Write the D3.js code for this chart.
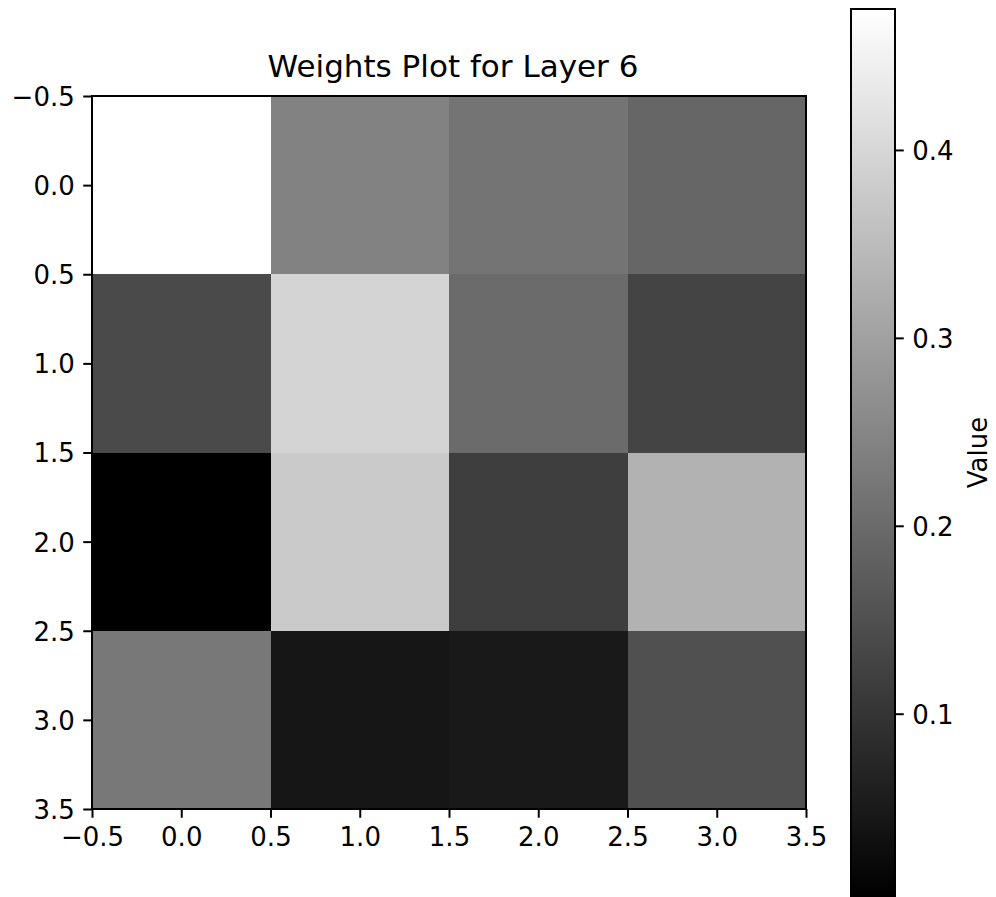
<!DOCTYPE html>
<html>
<head>
<meta charset="utf-8">
<script src="https://cdn.jsdelivr.net/npm/d3@7"></script>
<style>
  html, body { margin: 0; padding: 0; background: #fff; }
  svg { display: block; font-family: "DejaVu Sans", sans-serif; }
</style>
</head>
<body>
<svg id="chart" width="996" height="897"></svg>
<script>
// ---- data ----
const rows = [0, 1, 2, 3];
const cols = [0, 1, 2, 3];
const row0 = [0.475, 0.244, 0.218, 0.192];
const row1 = [0.140, 0.395, 0.201, 0.129];
const row2 = [0.003, 0.377, 0.118, 0.332];
const row3 = [0.225, 0.044, 0.049, 0.151];
const values = [row0, row1, row2, row3];
const axisTicks = [-0.5, 0.0, 0.5, 1.0, 1.5, 2.0, 2.5, 3.0, 3.5];
const cbarTicks = [0.1, 0.2, 0.3, 0.4];
const title = "Weights Plot for Layer 6";
const cbarLabel = "Value";

(function () {
// ---- layout ----
const svg = d3.select("#chart");
const pL = 92, pR = 806, pT = 96, pB = 809;
const cbL = 851, cbR = 895, cbT = 9, cbB = 896;
const tickLen = 8.75, tickPad = 8.5, fs = 26;

const fmt = v => (v < 0 ? "\u2212" : "") + Math.abs(v).toFixed(1);

const x = d3.scaleLinear().domain([-0.5, 3.5]).range([pL, pR]);
const y = d3.scaleLinear().domain([-0.5, 3.5]).range([pT, pB]);

const flat = [];
rows.forEach(r => cols.forEach(c => flat.push({r, c, v: values[r][c]})));
const ext = d3.extent(flat, d => d.v);
const color = d3.scaleLinear().domain(ext).range(["#000000", "#ffffff"]).interpolate(d3.interpolateRgb);

// cells
svg.append("g").selectAll("rect").data(flat).join("rect")
  .attr("x", d => x(d.c - 0.5))
  .attr("y", d => y(d.r - 0.5))
  .attr("width", d => x(d.c + 0.5) - x(d.c - 0.5))
  .attr("height", d => y(d.r + 0.5) - y(d.r - 0.5))
  .attr("fill", d => color(d.v))
  .attr("shape-rendering", "crispEdges");

// axes
const xAxis = d3.axisBottom(x).tickValues(axisTicks).tickFormat(fmt).tickSizeOuter(0).tickSize(tickLen).tickPadding(tickPad);
const yAxis = d3.axisLeft(y).tickValues(axisTicks).tickFormat(fmt).tickSizeOuter(0).tickSize(tickLen).tickPadding(tickPad);

const gx = svg.append("g").attr("transform", `translate(0,${pB})`).call(xAxis);
const gy = svg.append("g").attr("transform", `translate(${pL},0)`).call(yAxis);
[gx, gy].forEach(g => {
  g.select(".domain").remove();
  g.selectAll(".tick line").attr("stroke", "#000").attr("stroke-width", 2);
  g.selectAll(".tick text").attr("fill", "#000").style("font-size", fs + "px").style("font-family", "DejaVu Sans");
});
gx.selectAll(".tick text").attr("dy", "0.76em");
gy.selectAll(".tick text").attr("dy", "0.36em");

// spines
svg.append("rect")
  .attr("x", pL).attr("y", pT)
  .attr("width", pR - pL).attr("height", pB - pT)
  .attr("fill", "none").attr("stroke", "#000").attr("stroke-width", 2);

// title
svg.append("text")
  .attr("x", (pL + pR) / 2 + 4).attr("y", 77)
  .attr("text-anchor", "middle")
  .style("font-size", "31px").attr("fill", "#000")
  .text(title);

// colorbar
const defs = svg.append("defs");
const grad = defs.append("linearGradient").attr("id", "cbgrad")
  .attr("x1", 0).attr("y1", 1).attr("x2", 0).attr("y2", 0);
d3.range(0, 1.0001, 0.1).forEach(t => {
  grad.append("stop").attr("offset", t).attr("stop-color", color(ext[0] + t * (ext[1] - ext[0])));
});
svg.append("rect")
  .attr("x", cbL).attr("y", cbT).attr("width", cbR - cbL).attr("height", cbB - cbT)
  .attr("fill", "url(#cbgrad)");

const cy = d3.scaleLinear().domain(ext).range([cbB, cbT]);
const cAxis = d3.axisRight(cy).tickValues(cbarTicks).tickFormat(d3.format(".1f")).tickSizeOuter(0).tickSize(tickLen).tickPadding(tickPad);
const gc = svg.append("g").attr("transform", `translate(${cbR},0)`).call(cAxis);
gc.select(".domain").remove();
gc.selectAll(".tick line").attr("stroke", "#000").attr("stroke-width", 2);
gc.selectAll(".tick text").attr("fill", "#000").attr("dy", "0.36em").style("font-size", fs + "px").style("font-family", "DejaVu Sans");

svg.append("rect")
  .attr("x", cbL).attr("y", cbT).attr("width", cbR - cbL).attr("height", cbB - cbT)
  .attr("fill", "none").attr("stroke", "#000").attr("stroke-width", 2);

svg.append("text")
  .attr("transform", `translate(987,${(cbT + cbB) / 2}) rotate(-90)`)
  .attr("text-anchor", "middle")
  .style("font-size", fs + "px").attr("fill", "#000")
  .text(cbarLabel);
})();
</script>
</body>
</html>
